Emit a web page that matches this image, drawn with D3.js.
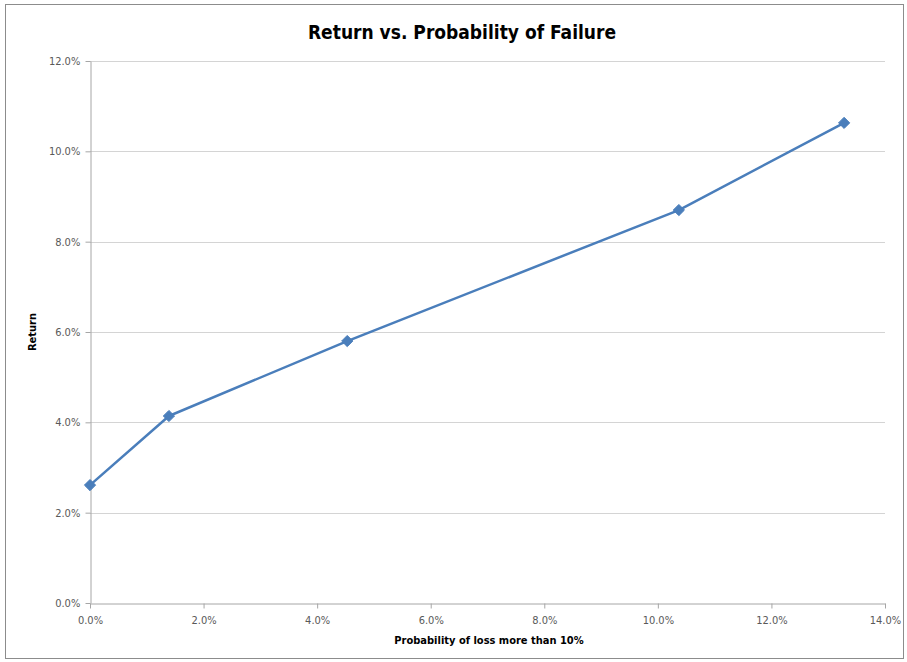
<!DOCTYPE html>
<html>
<head>
<meta charset="utf-8">
<script src="https://cdn.jsdelivr.net/npm/d3@7"></script>
<style>
  html, body { margin: 0; padding: 0; background: #fff; }
  svg { display: block; }
  text { font-family: "Liberation Sans Narrow", "DejaVu Sans Condensed", "Open Sans", sans-serif; }
</style>
</head>
<body>
<svg id="chart" width="907" height="662"></svg>
<script>
// Probability of a loss greater than 10% (x) vs. expected return (y), both as fractions
const probLoss = [0.0000, 0.0139, 0.0453, 0.1037, 0.1328];
const returns  = [0.0261, 0.0414, 0.0580, 0.0870, 0.1063];
const xTicks = [0, 0.02, 0.04, 0.06, 0.08, 0.10, 0.12, 0.14];
const yTicks = [0, 0.02, 0.04, 0.06, 0.08, 0.10, 0.12];

const svg = d3.select("#chart");
const W = 907, H = 662;
const plot = { left: 90, right: 885, top: 61, bottom: 603 };

// outer chart frame
svg.append("rect")
  .attr("x", 5.5).attr("y", 4.5)
  .attr("width", W - 9).attr("height", H - 8)
  .attr("fill", "#fff").attr("stroke", "#8c8c8c").attr("stroke-width", 1);

const x = d3.scaleLinear().domain([0, 0.14]).range([plot.left, plot.right]);
const y = d3.scaleLinear().domain([0, 0.12]).range([plot.bottom, plot.top]);
const pct = d3.format(".1%");

// horizontal gridlines
svg.append("g")
  .selectAll("line")
  .data(yTicks.filter(d => d > 0))
  .join("line")
  .attr("x1", plot.left).attr("x2", plot.right)
  .attr("y1", d => Math.round(y(d)) + 0.5).attr("y2", d => Math.round(y(d)) + 0.5)
  .attr("stroke", "#d4d4d4").attr("stroke-width", 1);

// x axis
const xAxis = svg.append("g")
  .attr("transform", `translate(0,${plot.bottom + 0.5})`)
  .call(d3.axisBottom(x).tickValues(xTicks).tickFormat(pct).tickSize(5).tickSizeOuter(0));
// y axis
const yAxis = svg.append("g")
  .attr("transform", `translate(${plot.left + 0.5},0)`)
  .call(d3.axisLeft(y).tickValues(yTicks).tickFormat(pct).tickSize(5).tickSizeOuter(0));

[xAxis, yAxis].forEach(g => {
  g.select(".domain").attr("stroke", "#a6a6a6");
  g.selectAll(".tick line").attr("stroke", "#a6a6a6");
  g.selectAll(".tick text")
    .attr("fill", "#595959")
    .style("font-size", "11px");
});
xAxis.selectAll(".tick text").attr("dy", "1.15em");
yAxis.selectAll(".tick text").attr("dx", "-0.2em");

// series line
const pts = probLoss.map((p, i) => [p, returns[i]]);
svg.append("path")
  .datum(pts)
  .attr("fill", "none")
  .attr("stroke", "#4a7ebb")
  .attr("stroke-width", 2.5)
  .attr("stroke-linejoin", "round")
  .attr("d", d3.line().x(d => x(d[0])).y(d => y(d[1])));

// diamond markers
svg.append("g")
  .selectAll("path")
  .data(pts)
  .join("path")
  .attr("transform", d => `translate(${x(d[0])},${y(d[1])})`)
  .attr("d", d3.symbol().type(d3.symbolDiamond2).size(80))
  .attr("fill", "#4a7ebb")
  .attr("stroke", "#4a7ebb")
  .attr("stroke-width", 1);

// titles
svg.append("text")
  .attr("x", 462).attr("y", 39)
  .attr("text-anchor", "middle")
  .style("font-size", "19px").style("font-weight", "bold")
  .attr("fill", "#000")
  .text("Return vs. Probability of Failure");

svg.append("text")
  .attr("x", 489).attr("y", 644)
  .attr("text-anchor", "middle")
  .style("font-size", "11px").style("font-weight", "bold")
  .attr("fill", "#000")
  .text("Probability of loss more than 10%");

svg.append("text")
  .attr("transform", `translate(36,${(plot.top + plot.bottom) / 2}) rotate(-90)`)
  .attr("text-anchor", "middle")
  .style("font-size", "11px").style("font-weight", "bold")
  .attr("fill", "#000")
  .text("Return");
</script>
</body>
</html>
